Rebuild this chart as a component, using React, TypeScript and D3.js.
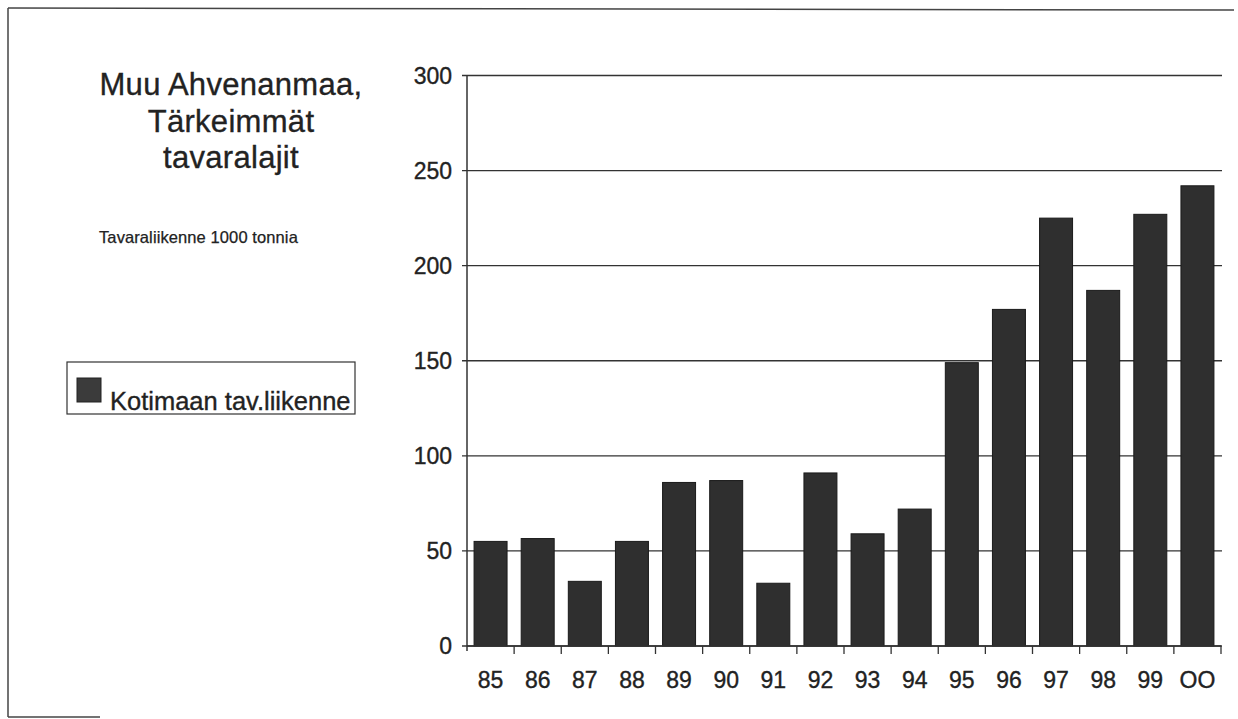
import React from "react";
import * as d3 from "d3";

const years = ["85", "86", "87", "88", "89", "90", "91", "92", "93", "94", "95", "96", "97", "98", "99", "OO"];
const values = [55, 56.5, 34, 55, 86, 87, 33, 91, 59, 72, 149, 177, 225, 187, 227, 242];
const yTicks = [0, 50, 100, 150, 200, 250, 300];
const titleLines = ["Muu Ahvenanmaa,", "Tärkeimmät", "tavaralajit"];
const subtitle = "Tavaraliikenne 1000 tonnia";
const seriesName = "Kotimaan tav.liikenne";

const W = 1238;
const H = 719;
const FONT = "'Liberation Sans', Arial, Helvetica, sans-serif";
const INK = "#222";
const BAR = "#2f2f2f";
const TXT = { fill: INK, stroke: INK, strokeWidth: 0.35 };

export default function App() {
  const x = d3.scaleBand<string>().domain(years).range([467, 1221]).paddingInner(0.3).paddingOuter(0.15);
  const y = d3.scaleLinear().domain([0, 300]).range([646, 75.5]);
  const step = x.step();
  const x0 = 467;
  const x1 = 1221;

  return (
    <svg width={W} height={H} style={{ position: "absolute", left: 0, top: 0, background: "#fff" }} fontFamily={FONT}>
      <rect x={0} y={0} width={W} height={H} fill="#fff" />
      {/* outer border */}
      <line x1={8} y1={8} x2={1234} y2={10} stroke="#444" strokeWidth={1.5} />
      <line x1={8} y1={8} x2={8} y2={717} stroke="#444" strokeWidth={1.5} />
      <line x1={8} y1={717} x2={100} y2={717} stroke="#444" strokeWidth={1.5} />

      {/* title */}
      {titleLines.map((t, i) => (
        <text key={t} x={231} y={95 + i * 36.5} textAnchor="middle" fontSize={31} letterSpacing={0.3} {...TXT}>
          {t}
        </text>
      ))}
      <text x={99} y={243} fontSize={16.5} letterSpacing={0.1} {...TXT} strokeWidth={0.25}>
        {subtitle}
      </text>

      {/* legend */}
      <rect x={67} y={362} width={288} height={52} fill="#fff" stroke="#333" strokeWidth={1.2} />
      <rect x={77} y={378} width={24} height={24} fill="#3b3b3b" stroke="#222" strokeWidth={1} />
      <text x={110} y={410} fontSize={25.5} {...TXT}>
        {seriesName}
      </text>

      {/* gridlines */}
      {yTicks.map((v) => (
        <line key={v} x1={462} x2={1222} y1={y(v)} y2={y(v)} stroke="#333" strokeWidth={1.3} />
      ))}
      {/* y labels */}
      {yTicks.map((v) => (
        <text key={"l" + v} x={452} y={y(v) + 8} textAnchor="end" fontSize={23} {...TXT}>
          {v}
        </text>
      ))}

      {/* bars */}
      {years.map((k, i) => (
        <rect
          key={k}
          x={x(k)}
          y={y(values[i])}
          width={x.bandwidth()}
          height={y(0) - y(values[i])}
          fill={BAR}
          stroke="#1a1a1a"
          strokeWidth={1}
        />
      ))}

      {/* axes */}
      <line x1={x0} x2={x0} y1={y(300)} y2={y(0) + 5} stroke="#333" strokeWidth={1.5} />
      <line x1={x0} x2={x1} y1={y(0)} y2={y(0)} stroke="#333" strokeWidth={1.5} />
      {years.map((k, i) => (
        <line key={"t" + k} x1={x0 + step * (i + 1)} x2={x0 + step * (i + 1)} y1={y(0)} y2={y(0) + 8} stroke="#333" strokeWidth={1.3} />
      ))}
      {years.map((k) => (
        <text key={"x" + k} x={(x(k) ?? 0) + x.bandwidth() / 2} y={688} textAnchor="middle" fontSize={23} {...TXT}>
          {k}
        </text>
      ))}
    </svg>
  );
}
